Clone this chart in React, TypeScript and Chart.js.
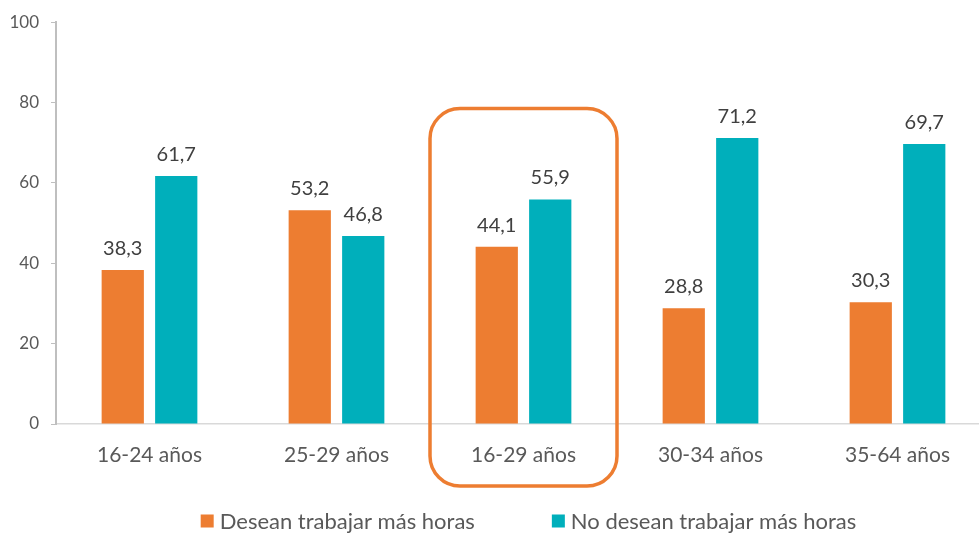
import React, { useEffect, useRef } from "react";
import { Chart, registerables } from "chart.js";

Chart.register(...registerables);

const categories = ["16-24 años", "25-29 años", "16-29 años", "30-34 años", "35-64 años"];
const seriesNames = ["Desean trabajar más horas", "No desean trabajar más horas"];
const desean = [38.3, 53.2, 44.1, 28.8, 30.3];
const noDesean = [61.7, 46.8, 55.9, 71.2, 69.7];
const yMin = 0;
const yMax = 100;
const yStep = 20;
const highlightIndex = 2;
const highlightTopValue = 78.5;

const colors = ["#ED7D31", "#00AFBB"];
const textColor = "#595959";
const labelColor = "#404040";
const FONT = "Lato, 'Open Sans', sans-serif";

const CANVAS_W = 995;
const CANVAS_H = 533;

const dataLabelPlugin = {
  id: "dataLabels",
  afterDatasetsDraw(chart: any) {
    const ctx = chart.ctx;
    ctx.save();
    ctx.font = `20px ${FONT}`;
    ctx.fillStyle = labelColor;
    ctx.textAlign = "center";
    ctx.textBaseline = "alphabetic";
    chart.data.datasets.forEach((ds: any, di: number) => {
      const meta = chart.getDatasetMeta(di);
      meta.data.forEach((bar: any, i: number) => {
        const v = ds.data[i] as number;
        const txt = v.toFixed(1).replace(".", ",");
        ctx.fillText(txt, bar.x, bar.y - 15);
      });
    });
    ctx.restore();
  },
};

const highlightPlugin = {
  id: "highlight",
  afterDatasetsDraw(chart: any) {
    const ctx = chart.ctx;
    const x = chart.scales.x;
    const y = chart.scales.y;
    const cx = x.getPixelForValue(highlightIndex);
    const half = (x.getPixelForValue(1) - x.getPixelForValue(0)) / 2;
    const left = cx - half;
    const right = cx + half;
    const top = y.getPixelForValue(highlightTopValue);
    const bottom = chart.chartArea.bottom + 62;
    ctx.save();
    ctx.strokeStyle = colors[0];
    ctx.lineWidth = 3.5;
    ctx.beginPath();
    (ctx as any).roundRect(left, top, right - left, bottom - top, 30);
    ctx.stroke();
    ctx.restore();
  },
};

const legendPlugin = {
  id: "customLegend",
  afterDraw(chart: any) {
    const ctx = chart.ctx;
    ctx.save();
    ctx.font = `22px ${FONT}`;
    const box = 13;
    const gapBoxText = 6;
    const gapItems = 77;
    const widths = seriesNames.map((n) => ctx.measureText(n).width);
    const total = widths.reduce((a, w) => a + box + gapBoxText + w, 0) + gapItems * (seriesNames.length - 1);
    const ca = chart.chartArea;
    let xPos = (ca.left + ca.right) / 2 - total / 2 + 5;
    const cy = CANVAS_H - 12;
    ctx.textBaseline = "middle";
    ctx.textAlign = "left";
    seriesNames.forEach((n, i) => {
      ctx.fillStyle = colors[i];
      ctx.fillRect(xPos, cy - box / 2, box, box);
      xPos += box + gapBoxText;
      ctx.fillStyle = textColor;
      ctx.fillText(n, xPos, cy + 1);
      xPos += widths[i] + gapItems;
    });
    ctx.restore();
  },
};

export default function App() {
  const ref = useRef<HTMLCanvasElement | null>(null);

  useEffect(() => {
    if (!ref.current) return;
    const chart = new Chart(ref.current, {
      type: "bar",
      data: {
        labels: categories,
        datasets: [
          {
            label: seriesNames[0],
            data: desean,
            backgroundColor: colors[0],
            categoryPercentage: 0.572,
            barPercentage: 0.79,
          },
          {
            label: seriesNames[1],
            data: noDesean,
            backgroundColor: colors[1],
            categoryPercentage: 0.572,
            barPercentage: 0.79,
          },
        ],
      },
      options: {
        responsive: false,
        animation: false,
        devicePixelRatio: 1,
        layout: { padding: { top: 22, right: 4, left: 0, bottom: 533 - 424 - 62 } },
        plugins: {
          legend: { display: false },
          tooltip: { enabled: false },
        },
        scales: {
          x: {
            grid: { display: false, drawTicks: false },
            border: { display: true, color: "#d9d9d9", width: 1.5 },
            ticks: {
              color: textColor,
              font: { family: FONT, size: 21 },
              padding: 19,
              maxRotation: 0,
            },
            afterFit: (s: any) => {
              s.height = 62;
            },
          },
          y: {
            min: yMin,
            max: yMax,
            grid: {
              display: true,
              drawOnChartArea: false,
              drawTicks: true,
              tickLength: 5,
              color: "#bfbfbf",
            },
            border: { display: true, color: "#bfbfbf", width: 2 },
            ticks: {
              stepSize: yStep,
              color: textColor,
              font: { family: FONT, size: 17 },
              padding: 12,
            },
            afterFit: (s: any) => {
              s.width = 56;
            },
          },
        },
      },
      plugins: [dataLabelPlugin, highlightPlugin, legendPlugin],
    });
    return () => chart.destroy();
  }, []);

  return (
    <div
      style={{
        position: "absolute",
        left: 0,
        top: 0,
        width: 979,
        height: CANVAS_H,
        overflow: "hidden",
        background: "#ffffff",
      }}
    >
      <canvas ref={ref} width={CANVAS_W} height={CANVAS_H} style={{ display: "block" }} />
    </div>
  );
}
